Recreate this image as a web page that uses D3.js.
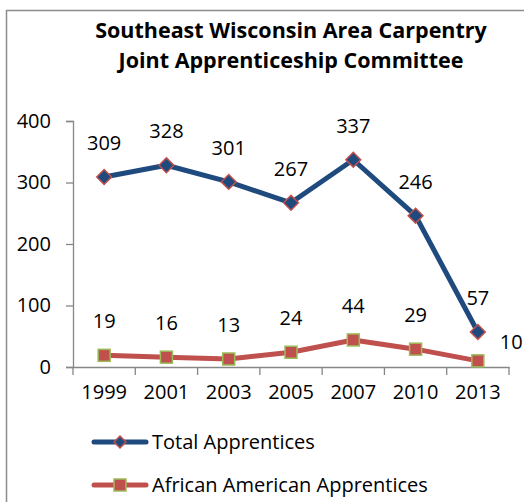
<!DOCTYPE html>
<html>
<head>
<meta charset="utf-8">
<script src="https://cdn.jsdelivr.net/npm/d3@7"></script>
<style>
  body { margin: 0; background: #fff; }
  text { font-family: "Open Sans", sans-serif; fill: #000; }
</style>
</head>
<body>
<div id="chart"></div>
<script>
// data
var years = ["1999", "2001", "2003", "2005", "2007", "2010", "2013"];
var totalApprentices = [309, 328, 301, 267, 337, 246, 57];
var africanAmericanApprentices = [19, 16, 13, 24, 44, 29, 10];
var yTicks = [0, 100, 200, 300, 400];
var titleLines = ["Southeast Wisconsin Area Carpentry", "Joint Apprenticeship Committee"];

var W = 524, H = 502;
var margin = {top: 121, right: 15, bottom: 135, left: 73};
var fontSize = "20px";

var svg = d3.select("#chart").append("svg")
    .attr("width", W)
    .attr("height", H);

// outer frame (only left and top edges show)
svg.append("rect")
    .attr("x", 6.5).attr("y", 10.5)
    .attr("width", 600).attr("height", 600)
    .attr("fill", "none")
    .attr("stroke", "#8c8c8c")
    .attr("stroke-width", 1.5);

// title
svg.append("text")
    .attr("x", 291)
    .attr("text-anchor", "middle")
    .style("font-weight", "bold")
    .style("font-size", "21.5px")
    .selectAll("tspan")
    .data(titleLines)
  .enter().append("tspan")
    .attr("x", 291)
    .attr("y", function(d, i) { return 38 + i * 30; })
    .text(function(d) { return d; });

var x = d3.scaleBand()
    .domain(years)
    .range([margin.left, W - margin.right])
    .padding(0);

var y = d3.scaleLinear()
    .domain([0, 400])
    .range([H - margin.bottom, margin.top]);

function cx(d, i) { return x(years[i]) + x.bandwidth() / 2; }

// y axis
var yAxis = svg.append("g")
    .attr("transform", "translate(" + margin.left + ",0)")
    .call(d3.axisLeft(y).tickValues(yTicks).tickSize(7).tickPadding(15));
yAxis.select(".domain").attr("stroke", "#868686").attr("stroke-width", 1.3);
yAxis.selectAll(".tick line").attr("stroke", "#868686").attr("stroke-width", 1.3);
yAxis.selectAll("text").style("font-size", fontSize).style("font-family", "Open Sans").attr("fill", "#000");

// x axis: labels centred, tick marks between categories
var xAxis = svg.append("g")
    .attr("transform", "translate(0," + y(0) + ")")
    .call(d3.axisBottom(x).tickSize(0).tickPadding(16));
xAxis.select(".domain").attr("stroke", "#868686").attr("stroke-width", 1.3);
xAxis.selectAll("text").style("font-size", fontSize).style("font-family", "Open Sans").attr("fill", "#000")
    .attr("dy", "0.8em");

var boundaries = years.map(function(d) { return x(d); }).concat([x.range()[1]]);
svg.append("g").selectAll("line")
    .data(boundaries)
  .enter().append("line")
    .attr("x1", function(d) { return d; })
    .attr("x2", function(d) { return d; })
    .attr("y1", y(0))
    .attr("y2", y(0) + 8)
    .attr("stroke", "#868686")
    .attr("stroke-width", 1.3);

var line = d3.line()
    .x(cx)
    .y(function(d) { return y(d); });

// total apprentices
svg.append("path")
    .datum(totalApprentices)
    .attr("d", line)
    .attr("fill", "none")
    .attr("stroke", "#1F4A7E")
    .attr("stroke-width", 5)
    .attr("stroke-linejoin", "round");

var diamond = d3.symbol().type(d3.symbolDiamond2).size(140);

svg.append("g").selectAll("path")
    .data(totalApprentices)
  .enter().append("path")
    .attr("d", diamond)
    .attr("transform", function(d, i) { return "translate(" + cx(d, i) + "," + y(d) + ")"; })
    .attr("fill", "#1F4A7E")
    .attr("stroke", "#C0504D")
    .attr("stroke-width", 1.5);

// african american apprentices
svg.append("path")
    .datum(africanAmericanApprentices)
    .attr("d", line)
    .attr("fill", "none")
    .attr("stroke", "#C0504D")
    .attr("stroke-width", 5)
    .attr("stroke-linejoin", "round");

svg.append("g").selectAll("rect")
    .data(africanAmericanApprentices)
  .enter().append("rect")
    .attr("x", function(d, i) { return cx(d, i) - 6; })
    .attr("y", function(d) { return y(d) - 6; })
    .attr("width", 12)
    .attr("height", 12)
    .attr("fill", "#C0504D")
    .attr("stroke", "#9BBB59")
    .attr("stroke-width", 1.5);

// data labels
svg.append("g").selectAll("text")
    .data(totalApprentices)
  .enter().append("text")
    .attr("x", cx)
    .attr("y", function(d) { return y(d) - 27; })
    .attr("text-anchor", "middle")
    .style("font-size", fontSize)
    .text(function(d) { return d; });

svg.append("g").selectAll("text")
    .data(africanAmericanApprentices)
  .enter().append("text")
    .attr("x", function(d, i) { return i === years.length - 1 ? cx(d, i) + 22 : cx(d, i); })
    .attr("y", function(d, i) { return i === years.length - 1 ? y(d) - 12 : y(d) - 27; })
    .attr("text-anchor", function(d, i) { return i === years.length - 1 ? "start" : "middle"; })
    .style("font-size", fontSize)
    .text(function(d) { return d; });

// legend
var legend = [
  {name: "Total Apprentices", color: "#1F4A7E", marker: "diamond", y: 442},
  {name: "African American Apprentices", color: "#C0504D", marker: "square", y: 485}
];
var lg = svg.append("g").selectAll("g")
    .data(legend)
  .enter().append("g")
    .attr("transform", function(d) { return "translate(0," + d.y + ")"; });
lg.append("line")
    .attr("x1", 94).attr("x2", 146)
    .attr("y1", 0).attr("y2", 0)
    .attr("stroke", function(d) { return d.color; })
    .attr("stroke-width", 5)
    .attr("stroke-linecap", "round");
lg.filter(function(d) { return d.marker === "diamond"; }).append("path")
    .attr("d", d3.symbol().type(d3.symbolDiamond2).size(90))
    .attr("transform", "translate(120,0)")
    .attr("fill", "#1F4A7E")
    .attr("stroke", "#C0504D")
    .attr("stroke-width", 1.5);
lg.filter(function(d) { return d.marker === "square"; }).append("rect")
    .attr("x", 114).attr("y", -6)
    .attr("width", 12).attr("height", 12)
    .attr("fill", "#C0504D")
    .attr("stroke", "#9BBB59")
    .attr("stroke-width", 1.5);
lg.append("text")
    .attr("x", 152)
    .attr("y", 0)
    .attr("dy", "0.35em")
    .style("font-size", fontSize)
    .text(function(d) { return d.name; });
</script>
</body>
</html>
